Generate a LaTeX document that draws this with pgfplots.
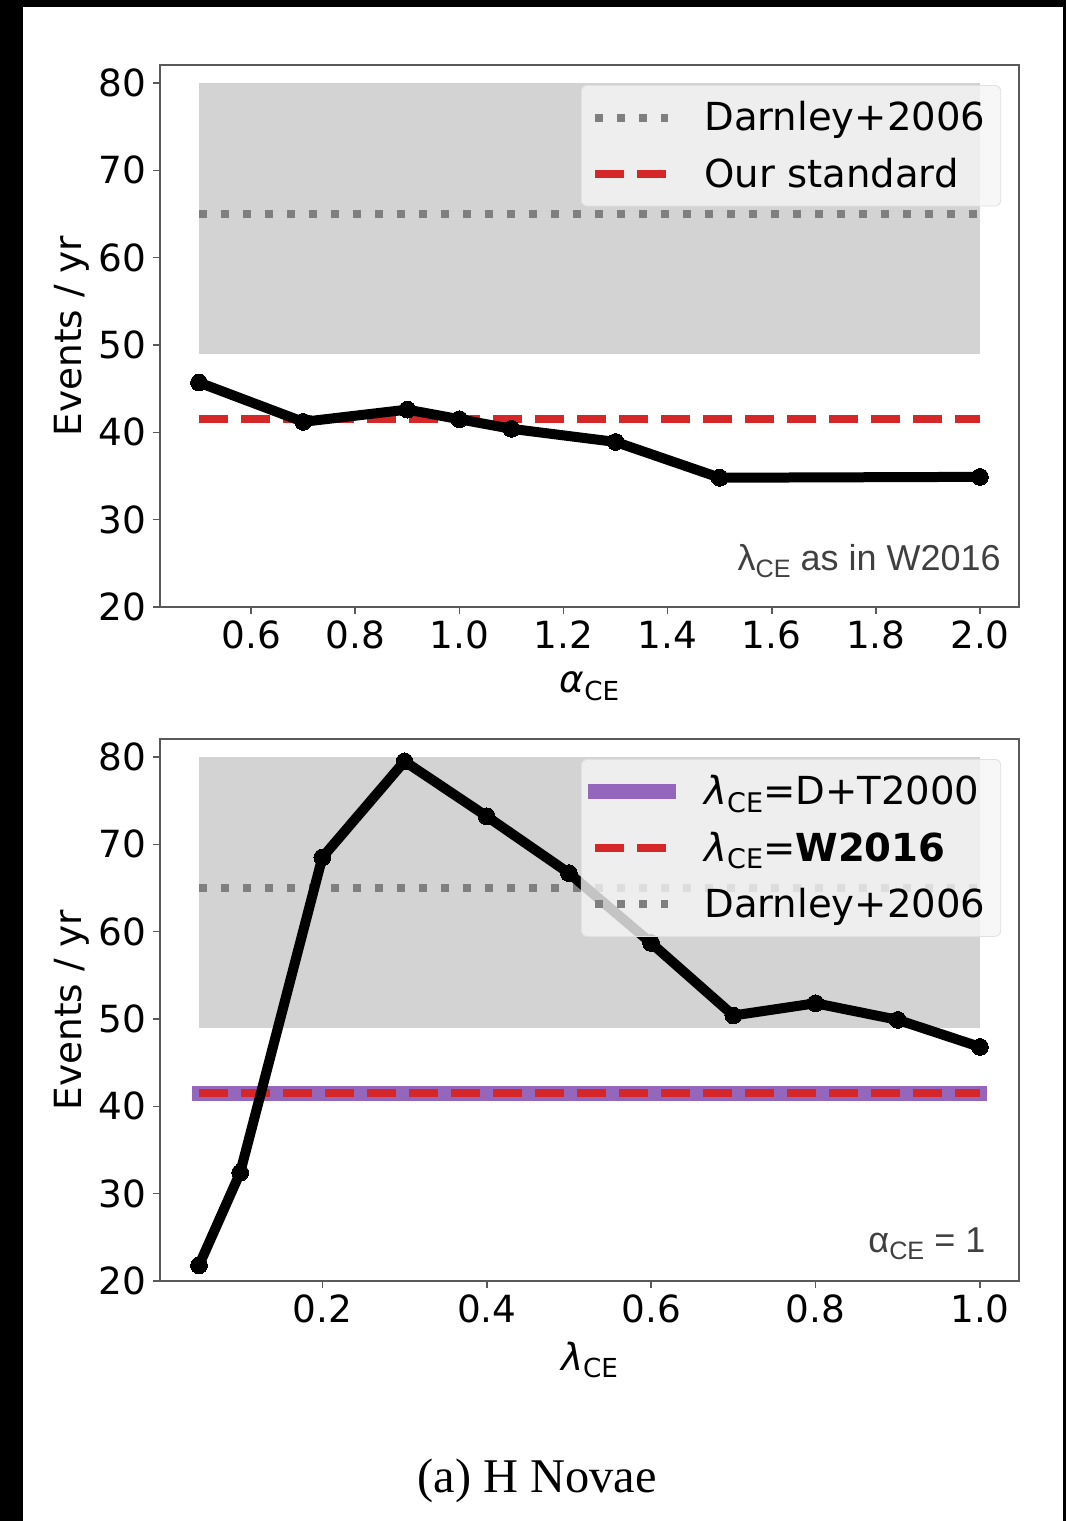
\documentclass[border=0pt]{standalone}
\usepackage{fontspec}
\setmainfont{DejaVu Sans}
\newfontfamily\helv{Liberation Sans}
\newfontfamily\capfont{Liberation Serif}
\usepackage{pgfplots}
\pgfplotsset{compat=1.18}

\definecolor{bandgray}{RGB}{211,211,211}
\definecolor{mplgray}{RGB}{127,127,127}
\definecolor{mplred}{RGB}{214,39,40}
\definecolor{mplpurple}{RGB}{148,103,189}
\definecolor{annot}{RGB}{64,64,64}

\newcommand\fs{\fontsize{18.7}{22}\selectfont}
\newcommand\lfs{\fontsize{19.3}{22}\selectfont}
\newcommand\sub[1]{\raisebox{-0.2em}{\scalebox{0.7}{#1}}}
\newcommand\pad{\rule{4.5pt}{0pt}}

\pgfplotsset{
  panel/.style={
    scale only axis, width=429.5pt, height=271pt,
    anchor=south west,
    ymin=20, ymax=82.06,
    ytick={20,30,40,50,60,70,80},
    axis line style={draw=black!65, line width=0.8pt},
    tick style={draw=black!65, line width=0.8pt},
    major tick length=3.5pt,
    tick align=outside,
    xtick pos=bottom, ytick pos=left,
    tick label style={font=\fs},
    /pgf/number format/assume math mode=true,
    xticklabel style={/pgf/number format/fixed, /pgf/number format/fixed zerofill, /pgf/number format/precision=1},
    every axis y label/.style={at={(rel axis cs:0,0.5)}, xshift=-44pt, rotate=90, anchor=center, font=\fs},
    every axis x label/.style={at={(rel axis cs:0.5,0)}, yshift=-39.5pt, anchor=center, font=\fs},
    ylabel={Events / yr},
    legend style={anchor=north west, draw=black!12, fill=white!96!black, fill opacity=0.8, text opacity=1,
      rounded corners=3pt, font=\lfs, inner xsep=3.25pt, inner ysep=8pt, row sep=12pt, column sep=14.25pt,
      nodes={inner sep=0pt}},
    legend cell align=left,
    legend image code/.code={%
      \path[draw=none, fill=none] (0pt,0pt) -- (44pt,0pt);
      \draw[#1] (3.75pt,0pt) -- (40.25pt,0pt);},
  },
  band/.style={fill=bandgray, draw=none, forget plot},
  darnley/.style={mplgray, line width=4pt, dash pattern=on 4pt off 7pt},
  ourstd/.style={mplred, line width=4pt, dash pattern=on 14.5pt off 6.5pt},
  model/.style={black, line width=5pt, mark=*, mark size=4.2pt,
    mark options={solid, fill=black, line width=0pt}, forget plot},
}

\begin{document}
\begin{tikzpicture}
\useasboundingbox (0,0) rectangle (533pt,760.5pt);
\fill[black] (0,0) rectangle (11.5pt,760.5pt);
\fill[black] (0,757pt) rectangle (533pt,760.5pt);
\fill[black] (531.5pt,0) rectangle (533pt,760.5pt);

% top: alpha_CE scan
\begin{axis}[panel, at={(80pt,457pt)},
  xmin=0.425, xmax=2.075,
  xtick={0.6,0.8,1.0,1.2,1.4,1.6,1.8,2.0},
  xlabel={{\itshape α}\sub{CE}},
  legend style={at={(0.49,0.963)}}]
\addplot[band] coordinates {(0.5,49) (2.0,49) (2.0,80) (0.5,80)};
\addplot[darnley] coordinates {(0.5,65) (2.0,65)};
\addlegendentry{Darnley+2006\pad}
\addplot[ourstd] coordinates {(0.5,41.5) (2.0,41.5)};
\addlegendentry{Our standard\pad}
\addplot[model] coordinates {
  (0.5,45.7) (0.7,41.2) (0.9,42.6) (1.0,41.5) (1.1,40.4) (1.3,38.9) (1.5,34.8) (2.0,34.9)};
\node[anchor=base east, font=\helv\fontsize{18}{20}\selectfont, text=annot]
  at (rel axis cs:0.987,0.068) {λ\sub{CE} as in W2016};
\end{axis}

% bottom: lambda_CE scan
\begin{axis}[panel, at={(80pt,120pt)},
  xmin=0.0025, xmax=1.0475,
  xtick={0.2,0.4,0.6,0.8,1.0},
  xlabel={{\itshape λ}\sub{CE}},
  legend style={at={(0.49,0.963)}}]
\addplot[band] coordinates {(0.05,49) (1.0,49) (1.0,80) (0.05,80)};
\addplot[mplpurple, line width=7.5pt, line cap=rect] coordinates {(0.05,41.5) (1.0,41.5)};
\addlegendentry{{\itshape λ}\sub{CE}=D+T2000\pad}
\addplot[ourstd] coordinates {(0.05,41.5) (1.0,41.5)};
\addlegendentry{{\itshape λ}\sub{CE}=\textbf{W2016}\pad}
\addplot[darnley] coordinates {(0.05,65) (1.0,65)};
\addlegendentry{Darnley+2006\pad}
\addplot[model] coordinates {
  (0.05,21.8) (0.1,32.4) (0.2,68.5) (0.3,79.5) (0.4,73.2) (0.5,66.7)
  (0.6,58.7) (0.7,50.4) (0.8,51.8) (0.9,49.9) (1.0,46.8)};
\node[anchor=base east, font=\helv\fontsize{18}{20}\selectfont, text=annot]
  at (rel axis cs:0.969,0.0535) {α\sub{CE} = 1};
\end{axis}

\node[font=\capfont\fontsize{24.2}{26}\selectfont] at (268.5pt,20pt) {(a) H Novae};
\end{tikzpicture}
\end{document}
